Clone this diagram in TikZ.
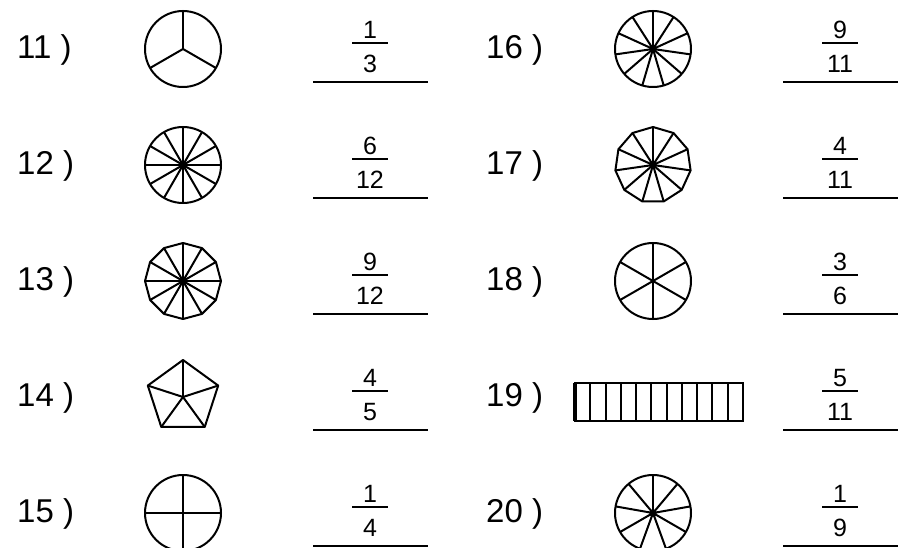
\documentclass[tikz,border=0pt]{standalone}
\usepackage{fontspec}
\setmainfont{Liberation Sans}
\newcommand\wspokes[4]{% cx cy n r
  \foreach \k in {1,...,#3} {\draw[shp] (#1,#2) -- ++({270+360*\k/#3}:#4);}}
\newcommand\wpoly[4]{% cx cy n r
  \draw[shp,line join=round] ([shift={(#1,#2)}]270:#4) \foreach \k in {1,...,#3} { -- ([shift={(#1,#2)}]{270+360*\k/#3}:#4)} -- cycle;}
\newcommand\wcirc[3]{\draw[shp] (#1,#2) circle[radius=#3];}
\newcommand\wdot[2]{\fill (#1,#2) circle[radius=3.8];}
\begin{document}
\begin{tikzpicture}[x=1pt,y=-1pt,
  lab/.style={font=\fontsize{33}{33}\selectfont, anchor=west, inner sep=0pt},
  frac/.style={font=\fontsize{25}{25}\selectfont, inner sep=0pt},
  shp/.style={line width=2pt},
  bar/.style={line width=1.8pt},
  ansline/.style={line width=2pt}]
\useasboundingbox (0,0) rectangle (900,548);
\clip (0,0) rectangle (900,548);
% labels
\foreach \t/\y [count=\i] in {11/50,12/166,13/282,14/398,15/514} {
  \node[lab] (L\t) at (17,\y) {\t\ )};
}
\foreach \t/\y [count=\i] in {16/50,17/166,18/282,19/398,20/514} {
  \node[lab] (L\t) at (486,\y) {\t\ )};
}
% fractions
\foreach \t/\x/\y/\n/\d in {11/370/49/1/3,12/370/165/6/12,13/370/281/9/12,14/370/397/4/5,15/370/513/1/4,
  16/840/49/9/11,17/840/165/4/11,18/840/281/3/6,19/840/397/5/11,20/840/513/1/9} {
  \node[frac] (N\t) at (\x,\y-19) {\n};
  \node[frac] (D\t) at (\x,\y+15) {\d};
  \draw[bar] (\x-18,\y-6) -- (\x+18,\y-6);
  \draw[ansline] (\x-57,\y+33) -- (\x+58,\y+33);
}
% 11
\wcirc{183}{49}{38}\wspokes{183}{49}{3}{38}
% 12
\wcirc{183}{165}{38}\wspokes{183}{165}{12}{38}\wdot{183}{165}
% 13
\wpoly{183}{281}{12}{38}\wspokes{183}{281}{12}{38}\wdot{183}{281}
% 14
\wpoly{183}{397}{5}{37}\wspokes{183}{397}{5}{37}
% 15
\wcirc{183}{513}{38}\wspokes{183}{513}{4}{38}
% 16
\wcirc{653}{49}{38}\wspokes{653}{49}{11}{38}\wdot{653}{49}
% 17
\wpoly{653}{165}{11}{38}\wspokes{653}{165}{11}{38}\wdot{653}{165}
% 18
\wcirc{653}{281}{38}\wspokes{653}{281}{6}{38}
% 19
\draw[shp] (575,383) rectangle (743,421);
\foreach \k in {1,...,10} {\draw[shp] ({575+\k*168/11},383) -- ({575+\k*168/11},421);}
\draw[line width=3.2pt] (575,383) -- (575,421);
% 20
\wcirc{653}{513}{38}\wspokes{653}{513}{9}{38}\wdot{653}{513}
\end{tikzpicture}
\end{document}
